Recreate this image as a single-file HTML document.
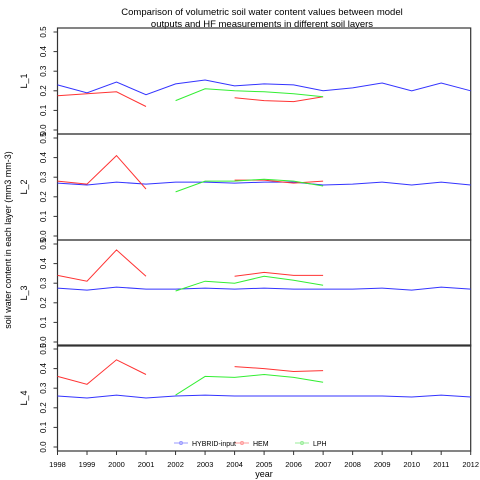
<!DOCTYPE html>
<html><head><meta charset="utf-8"><style>
body{margin:0;background:#fff;}
svg{display:block;font-family:"Liberation Sans",sans-serif;}
</style></head><body>
<svg id="c" width="480" height="480" viewBox="0 0 480 480">
<text x="262" y="15" font-size="9.5" text-anchor="middle">Comparison of volumetric soil water content values between model</text>
<text x="262" y="27" font-size="9.5" text-anchor="middle">outputs and HF measurements in different soil layers</text>
<text transform="translate(11,240) rotate(-90)" font-size="9" text-anchor="middle">soil water content in each layer (mm3 mm-3)</text>
<text x="264" y="477" font-size="9" text-anchor="middle">year</text>
</svg>
<script>
const years=[1998,1999,2000,2001,2002,2003,2004,2005,2006,2007,2008,2009,2010,2011,2012];
const layers=["L_1","L_2","L_3","L_4"];
const yTicks=[0,0.1,0.2,0.3,0.4,0.5];
const hybrid1=[.23,.19,.245,.18,.235,.255,.225,.235,.23,.20,.215,.24,.20,.24,.20];
const hybrid2=[.27,.26,.275,.265,.275,.275,.27,.275,.275,.26,.265,.275,.26,.275,.26];
const hybrid3=[.275,.265,.28,.27,.27,.275,.27,.275,.27,.27,.27,.275,.265,.28,.27];
const hybrid4=[.26,.25,.265,.25,.26,.265,.26,.26,.26,.26,.26,.26,.255,.265,.255];
const hem1=[.175,.185,.195,.12,null,null,.165,.15,.145,.17,null,null,null,null,null];
const hem2=[.28,.265,.41,.24,null,null,.285,.285,.27,.28,null,null,null,null,null];
const hem3=[.34,.31,.47,.335,null,null,.335,.355,.34,.34,null,null,null,null,null];
const hem4=[.36,.32,.445,.37,null,null,.41,.40,.385,.39,null,null,null,null,null];
const lph1=[null,null,null,null,.15,.21,.20,.195,.185,.17,null,null,null,null,null];
const lph2=[null,null,null,null,.225,.28,.28,.29,.28,.255,null,null,null,null,null];
const lph3=[null,null,null,null,.26,.31,.30,.335,.315,.29,null,null,null,null,null];
const lph4=[null,null,null,null,.265,.36,.355,.37,.355,.33,null,null,null,null,null];
const hybrid=[hybrid1,hybrid2,hybrid3,hybrid4],hem=[hem1,hem2,hem3,hem4],lph=[lph1,lph2,lph3,lph4];
const svg=document.getElementById('c');const NS='http://www.w3.org/2000/svg';
const X0=57.5,X1=470.7,panelTop=[28,134,240,345],panelH=106;
const xs=y=>X0+(y-years[0])*(X1-X0)/(years[years.length-1]-years[0]);
function mk(t,a){const e=document.createElementNS(NS,t);for(const k in a)e.setAttribute(k,a[k]);svg.appendChild(e);return e;}
layers.forEach((L,i)=>{
  const top=panelTop[i],zero=top+panelH-4,ys=v=>zero-v*196;
  const r=mk('rect',{x:X0,y:top,width:X1-X0,height:panelH,fill:'none',stroke:'#333','stroke-width':1.2});
  
  
  yTicks.forEach(t=>{
    const l=mk('line',{x1:X0-4,x2:X0,y1:ys(t),y2:ys(t),stroke:'#333'});
    
    
    const tx=mk('text',{transform:`translate(46,${ys(t)}) rotate(-90)`,'font-size':8,'text-anchor':'middle'});
    tx.textContent=t.toFixed(1);
    
    
  });
  const pl=mk('text',{transform:`translate(27,${top+panelH/2}) rotate(-90)`,'font-size':9,'text-anchor':'middle'});
  pl.textContent=L;
  
  
  [[hybrid[i],'#3333ff','hybrid'],[hem[i],'#ff3333','hem'],[lph[i],'#33ee33','lph']].forEach(([arr,c,n])=>{
    let d='',pen=false;
    arr.forEach((v,k)=>{if(v==null){pen=false;return;}d+=(pen?'L':'M')+xs(years[k]).toFixed(1)+' '+ys(v).toFixed(1)+' ';pen=true;});
    const p=mk('path',{d:d,fill:'none',stroke:c,'stroke-width':1});
    
    
  });
});
years.forEach(y=>{
  const l=mk('line',{x1:xs(y),x2:xs(y),y1:451,y2:455,stroke:'#333'});
  
  
  const t=mk('text',{x:xs(y),y:467,'font-size':7.5,'text-anchor':'middle'});
  t.textContent=y;
  
  
});
[['HYBRID-input','#9999ff',174],['HEM','#ff9999',235],['LPH','#99ee99',295]].forEach(([n,c,x])=>{
  const l=mk('line',{x1:x,x2:x+14,y1:443,y2:443,stroke:c});
  
  
  mk('circle',{cx:x+7,cy:443,r:1.5,fill:'none',stroke:c});
  const t=mk('text',{x:x+18,y:446,'font-size':7});
  t.textContent=n;
  
  
});
</script>
</body></html>
